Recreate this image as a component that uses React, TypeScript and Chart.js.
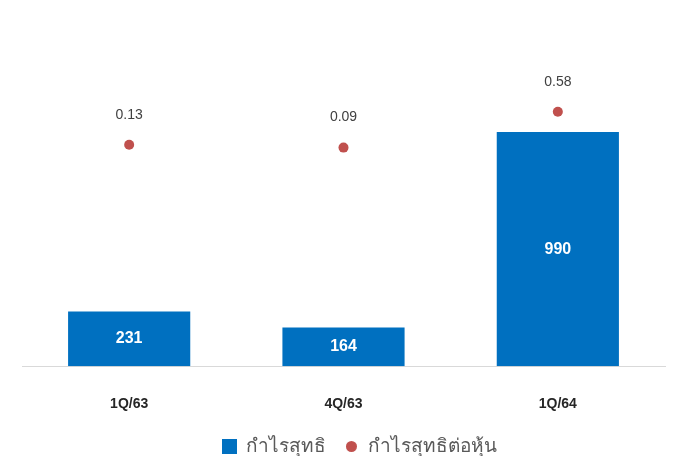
import React, { useEffect, useRef } from "react";
import { Chart, registerables } from "chart.js";

Chart.register(...registerables);

const categories = ["1Q/63", "4Q/63", "1Q/64"];
const netProfit = [231, 164, 990];
const eps = [0.13, 0.09, 0.58];
const seriesNames = ["กำไรสุทธิ", "กำไรสุทธิต่อหุ้น"];

const FONT = "'Liberation Sans', Arial, 'Noto Sans', 'DejaVu Sans', sans-serif";
const BAR_COLOR = "#0070C0";
const DOT_COLOR = "#C0504D";

function makeSquare(size: number, color: string) {
  const c = document.createElement("canvas");
  c.width = size;
  c.height = size;
  const g = c.getContext("2d")!;
  g.fillStyle = color;
  g.fillRect(0, 0, size, size);
  return c;
}
function makeDot(size: number, color: string) {
  const c = document.createElement("canvas");
  c.width = size;
  c.height = size;
  const g = c.getContext("2d")!;
  g.fillStyle = color;
  g.beginPath();
  g.arc(size / 2, size / 2, size / 2, 0, Math.PI * 2);
  g.fill();
  return c;
}

const labelPlugin = {
  id: "valueLabels",
  afterLayout(chart: any) {
    if (chart.legend) {
      chart.legend.left += 16;
      chart.legend.right += 16;
    }
  },
  afterDatasetsDraw(chart: any) {
    const ctx = chart.ctx;
    ctx.save();
    ctx.textAlign = "center";
    ctx.textBaseline = "middle";
    const barMeta = chart.getDatasetMeta(0);
    ctx.fillStyle = "#ffffff";
    ctx.font = `bold 16px ${FONT}`;
    barMeta.data.forEach((el: any, i: number) => {
      const y = (el.y + el.base) / 2;
      ctx.fillText(String(netProfit[i]), el.x, y);
    });
    const ptMeta = chart.getDatasetMeta(1);
    ctx.fillStyle = "#404040";
    ctx.font = `14px ${FONT}`;
    ptMeta.data.forEach((el: any, i: number) => {
      ctx.fillText(eps[i].toFixed(2), el.x, el.y - 30);
    });
    ctx.restore();
  },
};

export default function App() {
  const ref = useRef<HTMLCanvasElement>(null);
  useEffect(() => {
    document.body.style.margin = "0";
    const square = makeSquare(15, BAR_COLOR);
    const dot = makeDot(11, DOT_COLOR);
    const chart = new Chart(ref.current!, {
      type: "bar",
      data: {
        labels: categories,
        datasets: [
          {
            type: "bar",
            label: seriesNames[0],
            data: netProfit,
            backgroundColor: BAR_COLOR,
            borderWidth: 0,
            barPercentage: 0.57,
            categoryPercentage: 1,
            yAxisID: "y",
            order: 2,
          } as any,
          {
            type: "line",
            label: seriesNames[1],
            data: eps,
            showLine: false,
            pointRadius: 5,
            pointBackgroundColor: DOT_COLOR,
            pointBorderWidth: 0,
            backgroundColor: DOT_COLOR,
            borderColor: DOT_COLOR,
            yAxisID: "y2",
            order: 1,
          } as any,
        ],
      },
      options: {
        animation: false,
        responsive: false,
        layout: { padding: { left: 22, right: 17, top: 35, bottom: -10 } },
        plugins: {
          tooltip: { enabled: false },
          legend: {
            position: "bottom",
            labels: {
              usePointStyle: true,
              boxWidth: 15,
              boxHeight: 15,
              color: "#595959",
              font: { family: FONT, size: 19 },
              padding: 2,
              generateLabels: () =>
                seriesNames.map((name, i) => ({
                  text: i === 0 ? name + "   " : name,
                  datasetIndex: i,
                  pointStyle: i === 0 ? square : dot,
                  fillStyle: i === 0 ? BAR_COLOR : DOT_COLOR,
                  strokeStyle: "transparent",
                  lineWidth: 0,
                  hidden: false,
                  fontColor: "#595959",
                })),
            },
          },
        },
        scales: {
          x: {
            grid: { display: false },
            border: { display: true, color: "#d9d9d9", width: 1 },
            ticks: {
              color: "#262626",
              font: { family: FONT, size: 14, weight: "bold" },
              padding: 22,
            },
          },
          y: { display: false, min: 0, max: 1400 },
          y2: { display: false, min: -2.9, max: 1.63, position: "right" },
        },
      },
      plugins: [labelPlugin],
    });
    return () => chart.destroy();
  }, []);
  return (
    <div style={{ width: 682, height: 456 }}>
      <canvas ref={ref} width={682} height={456} style={{ display: "block" }} />
    </div>
  );
}
